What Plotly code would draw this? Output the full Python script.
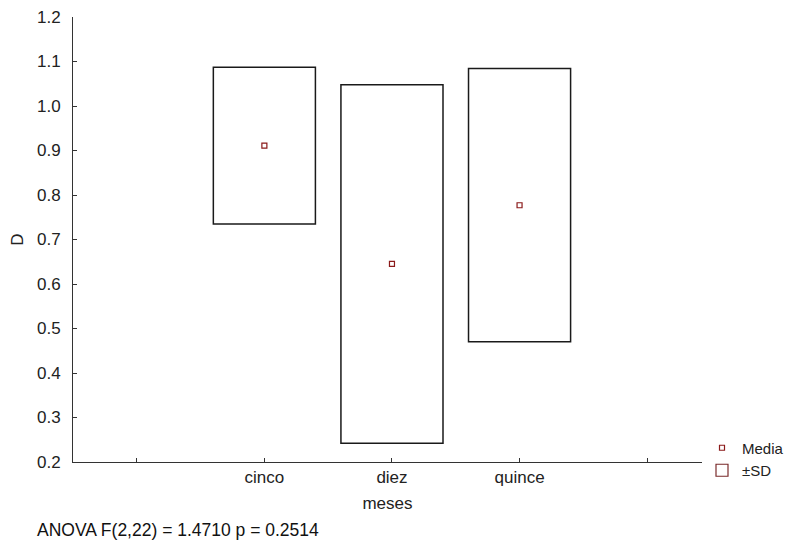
import plotly.graph_objects as go

categories = ["cinco", "diez", "quince"]
cat_pos = [1, 2, 3]
means = [0.911, 0.645, 0.777]
sds = [0.176, 0.403, 0.307]

tick_vals = [0, 1, 2, 3, 4]
tick_text = ["", "cinco", "diez", "quince", ""]
y_ticks = [0.2, 0.3, 0.4, 0.5, 0.6, 0.7, 0.8, 0.9, 1.0, 1.1, 1.2]

lower = [m - s for m, s in zip(means, sds)]
span = [2 * s for s in sds]

fig = go.Figure()
fig.add_trace(go.Bar(
    x=cat_pos, y=span, base=lower, width=0.8,
    name="±SD", showlegend=False,
    marker=dict(color="rgba(255,255,255,1)", line=dict(color="#1a1a1a", width=1.5)),
    hoverinfo="skip",
))
# legend entry for the ±SD boxes (brownish outline as in the reference legend)
fig.add_trace(go.Bar(
    x=[None], y=[None], name="±SD",
    marker=dict(color="rgba(255,255,255,1)", line=dict(color="#7a2a2a", width=1.2)),
))
fig.add_trace(go.Scatter(
    x=cat_pos, y=means, mode="markers", name="Media",
    marker=dict(symbol="square-open", size=5, color="#8b1a1a", line=dict(width=1.2)),
))

font = dict(family="Liberation Sans, Arial, sans-serif", size=17, color="#222222")
fig.update_layout(
    width=791, height=542,
    margin=dict(l=73, r=89, t=17, b=80, autoexpand=False),
    paper_bgcolor="white", plot_bgcolor="white",
    font=font,
    showlegend=True,
    barmode="overlay",
    legend=dict(x=1.0, xanchor="left", y=-0.055, yanchor="bottom",
                font=dict(size=15, color="#222222"), tracegroupgap=0,
                traceorder="reversed", itemwidth=30),
    xaxis=dict(range=[-0.5, 4.43], tickvals=tick_vals, ticktext=tick_text,
               ticks="inside", ticklen=4, tickcolor="#333333",
               showline=True, linecolor="#333333", linewidth=1,
               showgrid=False, zeroline=False, automargin=False,
               title=dict(text="meses", standoff=10, font=dict(size=17))),
    yaxis=dict(range=[0.2, 1.2], tickvals=y_ticks, tickformat=".1f",
               ticks="inside", ticklen=4, tickcolor="#333333",
               ticklabelstandoff=8,
               showline=True, linecolor="#333333", linewidth=1,
               showgrid=False, zeroline=False, automargin=False,
               title=dict(text="D", standoff=9, font=dict(size=17))),
    annotations=[dict(text="ANOVA F(2,22) = 1.4710 p = 0.2514", xref="paper", yref="paper",
                      x=-0.061, y=-0.153, xanchor="left", yanchor="middle", showarrow=False,
                      font=dict(size=17.5, color="#111111"))],
)
fig.write_html("out.html", config={"displayModeBar": False},
               post_script="document.body.style.margin='0';document.body.style.overflow='hidden';")
